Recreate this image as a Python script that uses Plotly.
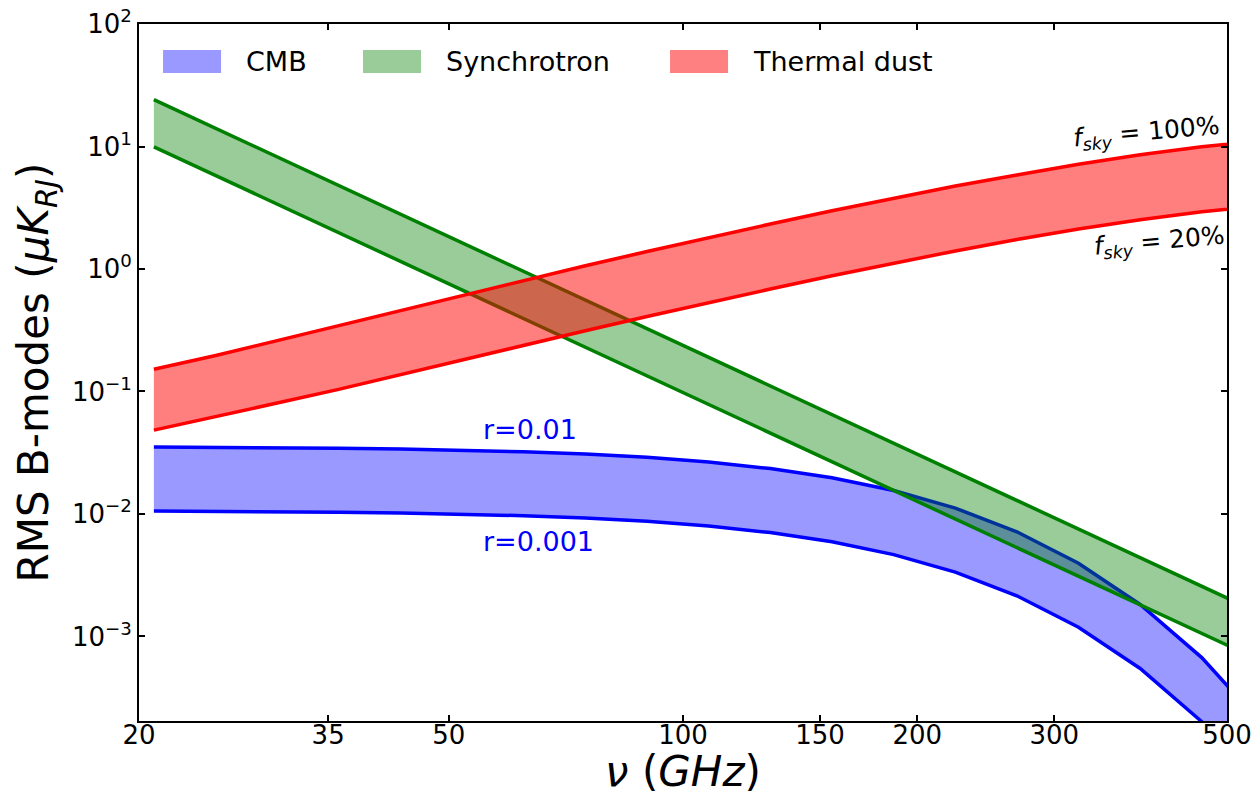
import plotly.graph_objects as go
import math

# ---------------- data ----------------
freq_ghz = [20.9, 25.1, 30.1, 36.1, 43.4, 52.0, 62.4, 74.9, 89.9, 107.9,
            129.5, 155.4, 186.5, 223.8, 268.5, 322.2, 386.7, 464.0, 556.8]

cmb_r001 = [0.0352, 0.03503, 0.03478, 0.03443, 0.03392, 0.03321, 0.03222, 0.03086,
            0.02901, 0.02658, 0.02348, 0.01975, 0.01553, 0.01117, 0.00716, 0.003964,
            0.001825, 0.000672, 0.000189]
cmb_r0001 = [0.01057, 0.01052, 0.01044, 0.01034, 0.01018, 0.00997, 0.00968, 0.00927,
             0.00871, 0.00798, 0.00705, 0.00593, 0.00466, 0.003353, 0.00215, 0.00119,
             0.000548, 0.0002017, 0.0000567]

sync_high = [24.1, 14.03, 8.21, 4.805, 2.791, 1.637, 0.956, 0.558, 0.3256, 0.1901,
             0.1109, 0.0648, 0.0378, 0.02208, 0.01291, 0.00754, 0.0044, 0.00257, 0.0015]
sync_low = [9.93, 5.78, 3.38, 1.98, 1.15, 0.675, 0.394, 0.23, 0.1342, 0.0783,
            0.0457, 0.0267, 0.01558, 0.0091, 0.00532, 0.00311, 0.00181, 0.00106, 0.000618]

dust_fsky100 = [0.152, 0.197, 0.26, 0.344, 0.458, 0.609, 0.811, 1.063, 1.388, 1.804,
                2.329, 2.987, 3.794, 4.767, 5.85, 7.15, 8.55, 9.95, 11.2]
dust_fsky20 = [0.0484, 0.0622, 0.0805, 0.1041, 0.138, 0.1815, 0.2387, 0.3131, 0.4088,
               0.5311, 0.6861, 0.8793, 1.117, 1.404, 1.739, 2.118, 2.528, 2.936, 3.299]

x_ticks = [20, 35, 50, 100, 150, 200, 300, 500]
y_ticks = [1e-3, 1e-2, 1e-1, 1e0, 1e1, 1e2]
y_ticktext = ["10<sup>\u22123</sup>", "10<sup>\u22122</sup>", "10<sup>\u22121</sup>",
              "10<sup>0</sup>", "10<sup>1</sup>", "10<sup>2</sup>"]

legend_names = ["CMB", "Synchrotron", "Thermal dust"]

# ---------------- style ----------------
FONT = "DejaVu Sans"
BLUE, GREEN, RED = "#0000ff", "#008000", "#ff0000"
BLUE_F, GREEN_F, RED_F = "rgba(0,0,255,0.4)", "rgba(0,128,0,0.4)", "rgba(255,0,0,0.5)"

fig = go.Figure()

def band(hi, lo, lc, fc, name):
    fig.add_trace(go.Scatter(x=freq_ghz, y=hi, mode="lines", line=dict(color=lc, width=3.5),
                             showlegend=False, name=name))
    fig.add_trace(go.Scatter(x=freq_ghz, y=lo, mode="lines", line=dict(color=lc, width=3.5),
                             fill="tonexty", fillcolor=fc, showlegend=False, name=name))

band(cmb_r001, cmb_r0001, BLUE, BLUE_F, "CMB")
band(sync_high, sync_low, GREEN, GREEN_F, "Synchrotron")
band(dust_fsky100, dust_fsky20, RED, RED_F, "Thermal dust")

axis_common = dict(showline=True, linewidth=2, linecolor="black", mirror="ticks",
                   ticks="inside", ticklen=6, tickwidth=2, tickcolor="black",
                   showgrid=False, zeroline=False, automargin=False,
                   tickfont=dict(family=FONT, size=26, color="black"))

fig.update_xaxes(type="log", range=[math.log10(20), math.log10(500)],
                 tickvals=x_ticks, ticktext=[str(v) for v in x_ticks],
                 ticklabelstandoff=-10,
                 title=dict(text="<i>\u03bd</i> (<i>GHz</i>)",
                            font=dict(family=FONT, size=42, color="black"), standoff=11),
                 **axis_common)
fig.update_yaxes(type="log", range=[-3.69, 2],
                 tickvals=y_ticks, ticktext=y_ticktext,
                 title=dict(text="RMS B-modes (<i>\u03bcK</i><sub><i>RJ</i></sub>)",
                            font=dict(family=FONT, size=42, color="black"), standoff=10),
                 **axis_common)

annotations = [
    dict(x=math.log10(55.0), y=math.log10(0.0485), xref="x", yref="y", text="r=0.01",
         showarrow=False, xanchor="left", font=dict(family=FONT, size=27, color=BLUE)),
    dict(x=math.log10(55.0), y=math.log10(0.0060), xref="x", yref="y", text="r=0.001",
         showarrow=False, xanchor="left", font=dict(family=FONT, size=27, color=BLUE)),
    dict(x=math.log10(394.0), y=math.log10(12.94), xref="x", yref="y",
         text="<i>f</i><sub><i>sky</i></sub> = 100%", textangle=-5,
         showarrow=False, font=dict(family=FONT, size=25, color="black")),
    dict(x=math.log10(410.0), y=math.log10(1.665), xref="x", yref="y",
         text="<i>f</i><sub><i>sky</i></sub> = 20%", textangle=-5,
         showarrow=False, font=dict(family=FONT, size=25, color="black")),
]

# manual legend (patches + labels) in paper coordinates
legend_fills = ["#9999ff", "#99cc99", "#ff8080"]
patch_x0 = [0.0221, 0.2059, 0.4881]
patch_w = 0.0533
shapes = []
for name, fc, x0 in zip(legend_names, legend_fills, patch_x0):
    shapes.append(dict(type="rect", xref="paper", yref="paper", x0=x0, x1=x0 + patch_w,
                       y0=0.9297, y1=0.9627, fillcolor=fc, line=dict(width=0), layer="above"))
    annotations.append(dict(x=x0 + patch_w + 0.021, y=0.9462, xref="paper", yref="paper",
                            text=name, showarrow=False, xanchor="left", yanchor="middle",
                            font=dict(family=FONT, size=27, color="black")))

fig.update_layout(width=1258, height=796, margin=dict(l=139, r=31, t=24, b=75),
                  paper_bgcolor="white", plot_bgcolor="white",
                  font=dict(family=FONT, color="black"),
                  annotations=annotations, shapes=shapes, showlegend=False)

fig.write_html("out.html")
